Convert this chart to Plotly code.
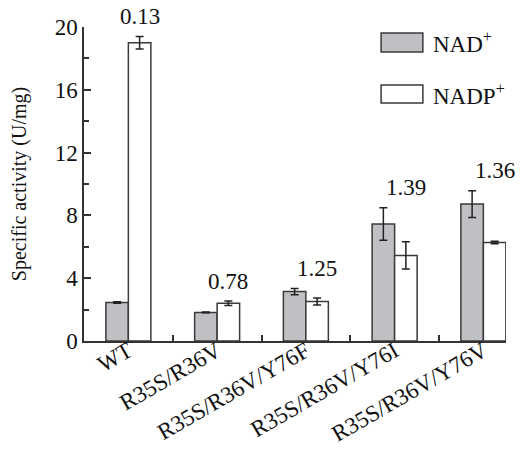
import plotly.graph_objects as go

categories = ["WT", "R35S/R36V", "R35S/R36V/Y76F", "R35S/R36V/Y76I", "R35S/R36V/Y76V"]
nad_values = [2.45, 1.82, 3.15, 7.45, 8.72]
nad_errors = [0.05, 0.02, 0.2, 1.03, 0.85]
nadp_values = [19.0, 2.4, 2.52, 5.45, 6.28]
nadp_errors = [0.4, 0.14, 0.22, 0.87, 0.08]
ratio_labels = ["0.13", "0.78", "1.25", "1.39", "1.36"]

FONT = "Liberation Serif"
GRAY = "#c0c0c4"
EDGE = "#3a3a3a"

fig = go.Figure()
fig.add_trace(go.Bar(
    x=categories, y=nad_values, name="NAD<sup>+</sup>",
    marker=dict(color=GRAY, line=dict(color=EDGE, width=1.5)),
    error_y=dict(type="data", array=nad_errors, color="#222", thickness=1.5, width=4),
))
fig.add_trace(go.Bar(
    x=categories, y=nadp_values, name="NADP<sup>+</sup>",
    marker=dict(color="white", line=dict(color=EDGE, width=1.5)),
    error_y=dict(type="data", array=nadp_errors, color="#222", thickness=1.5, width=4),
))

group_w = 0.507
offset = group_w / 4
for i, lab in enumerate(ratio_labels):
    top = max(nad_values[i] + nad_errors[i], nadp_values[i] + nadp_errors[i])
    fig.add_annotation(x=i + offset, y=top, text=lab, showarrow=False,
                       yanchor="middle", yshift=20,
                       font=dict(family=FONT, size=23, color="#111"))

# custom legend
legend_items = [("NAD<sup>+</sup>", GRAY, 0.981, 0.920), ("NADP<sup>+</sup>", "white", 0.815, 0.758)]
for text, col, y1, y0 in legend_items:
    fig.add_shape(type="rect", xref="paper", yref="paper", x0=0.704, x1=0.803, y0=y0, y1=y1,
                  fillcolor=col, line=dict(color=EDGE, width=1.5))
    fig.add_annotation(xref="paper", yref="paper", x=0.822, y=(y0 + y1) / 2, text=text,
                       showarrow=False, xanchor="left", yanchor="middle",
                       font=dict(family=FONT, size=23, color="#111"))

fig.update_layout(
    width=529, height=451,
    margin=dict(l=76, r=31, t=19, b=118),
    paper_bgcolor="white", plot_bgcolor="white",
    barmode="group", bargap=1 - group_w, bargroupgap=0,
    showlegend=False,
    font=dict(family=FONT, size=20, color="#111"),
)
fig.update_xaxes(
    range=[-0.5, 4.255], showline=True, linecolor="#333", linewidth=1.5,
    ticks="inside", tickson="boundaries", ticklen=6, tickcolor="#333", tickwidth=1.5,
    tickangle=-30, tickfont=dict(family=FONT, size=23, color="#111"),
    ticklabelstandoff=-14, automargin=False,
    showgrid=False, zeroline=False,
)
fig.update_yaxes(
    range=[0, 20], dtick=4, showline=True, linecolor="#333", linewidth=1.5,
    ticks="inside", ticklen=7, tickcolor="#333", tickwidth=1.5,
    minor=dict(dtick=2, ticks="inside", ticklen=5, tickcolor="#333", tickwidth=1.5, showgrid=False),
    showgrid=False, zeroline=False, automargin=False,
    tickfont=dict(family=FONT, size=23, color="#111"),
    title=dict(text="Specific activity (U/mg)", font=dict(family=FONT, size=20, color="#111"), standoff=24),
)

fig.write_html("out.html")
